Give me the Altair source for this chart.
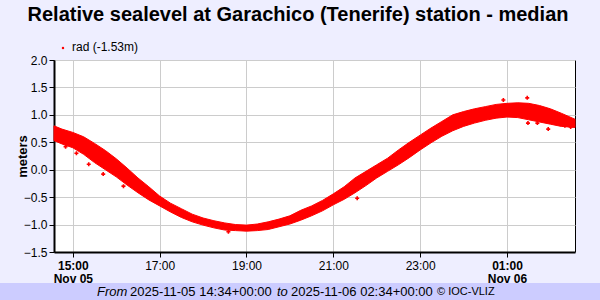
import altair as alt
import pandas as pd

# ---- data ----
band_times = ["14:34", "14:45", "15:00", "15:15", "15:30", "15:45", "16:00", "16:15",
              "16:30", "16:45", "17:00", "17:15", "17:30", "17:45", "18:00", "18:15",
              "18:30", "18:45", "19:00", "19:15", "19:30", "19:45", "20:00", "20:15",
              "20:30", "20:45", "21:00", "21:15", "21:30", "21:45", "22:00", "22:15",
              "22:30", "22:45", "23:00", "23:15", "23:30", "23:45", "00:00", "00:15",
              "00:30", "00:45", "01:00", "01:15", "01:30", "01:45", "02:00", "02:15",
              "02:34"]
band_lower = [0.53, 0.47, 0.40, 0.28, 0.13, 0.00, -0.13, -0.28,
              -0.42, -0.55, -0.66, -0.77, -0.87, -0.95, -1.01, -1.06,
              -1.10, -1.11, -1.12, -1.11, -1.09, -1.04, -0.99, -0.92,
              -0.84, -0.75, -0.64, -0.54, -0.42, -0.29, -0.15, -0.03,
              0.09, 0.22, 0.36, 0.49, 0.61, 0.71, 0.79, 0.85,
              0.90, 0.94, 0.96, 0.95, 0.91, 0.87, 0.83, 0.79,
              0.77]
band_upper = [0.80, 0.74, 0.68, 0.60, 0.48, 0.35, 0.20, 0.03,
              -0.15, -0.31, -0.48, -0.61, -0.71, -0.81, -0.88, -0.93,
              -0.97, -1.00, -1.01, -0.99, -0.95, -0.90, -0.84, -0.74,
              -0.66, -0.56, -0.44, -0.31, -0.15, -0.03, 0.09, 0.21,
              0.36, 0.50, 0.63, 0.76, 0.88, 1.00, 1.06, 1.11,
              1.15, 1.19, 1.21, 1.22, 1.21, 1.17, 1.11, 1.03,
              0.92]

outlier_times = ["14:50", "15:05", "15:22", "15:42", "16:10", "18:35", "21:33",
                 "00:55", "01:28", "01:29", "01:42", "01:57", "02:20", "02:28"]
outlier_values = [0.42, 0.30, 0.10, -0.08, -0.30, -1.13, -0.52,
                  1.27, 1.31, 0.85, 0.85, 0.74, 0.80, 0.78]

tick_times = ["15:00", "17:00", "19:00", "21:00", "23:00", "01:00"]
date_labels = {"15:00": "Nov 05", "01:00": "Nov 06"}
y_ticks = [-1.5, -1.0, -0.5, 0.0, 0.5, 1.0, 1.5, 2.0]

title_text = "Relative sealevel at Garachico (Tenerife) station - median"
legend_text = "rad (-1.53m)"
y_title = "meters"
start_text = "2025-11-05 14:34+00:00"
end_text = "2025-11-06 02:34+00:00"
credit_text = "\u00a9 IOC-VLIZ"


def to_iso(hm):
    h = int(hm.split(":")[0])
    day = "2025-11-05" if h >= 12 else "2025-11-06"
    return f"{day}T{hm}:00Z"


def to_ms(hm):
    return int(pd.Timestamp(to_iso(hm)).value // 10**6)


band_df = pd.DataFrame({"t": [to_iso(t) for t in band_times],
                        "lo": band_lower, "hi": band_upper})
out_df = pd.DataFrame({"t": [to_iso(t) for t in outlier_times], "lo": outlier_values})

domain_x = [to_ms("14:34"), to_ms("02:34")]
tick_vals = [to_ms(t) for t in tick_times]

label_expr = ("utchours(datum.value)==15 ? [utcFormat(datum.value,'%H:%M'), '" + date_labels["15:00"] + "'] : "
              "utchours(datum.value)==1 ? [utcFormat(datum.value,'%H:%M'), '" + date_labels["01:00"] + "'] : "
              "utcFormat(datum.value,'%H:%M')")

FONT = "Liberation Sans"

xscale = alt.Scale(type="utc", domain=domain_x)
xaxis = alt.Axis(values=tick_vals, labelExpr=label_expr, title=None,
                 labelFontWeight={"condition": {"test": "utchours(datum.value)==15 || utchours(datum.value)==1",
                                                "value": "bold"}, "value": "normal"},
                 labelFont=FONT, labelFontSize=12, labelColor="black",
                 labelLineHeight=13, labelPadding=3, labelOverlap=False,
                 tickSize=5, tickColor="black", domainColor="black", domainWidth=2,
                 grid=True, gridColor="#cccccc", gridWidth=1, labelFlush=False)

yscale = alt.Scale(domain=[-1.5, 2.0], nice=False, zero=False)
yaxis = alt.Axis(values=y_ticks, format=".1f",
                 title=y_title, titleFont=FONT, titleFontSize=13, titleFontWeight="bold",
                 titleColor="black", titleX=-32, titleY=96, titleAlign="center",
                 titleBaseline="middle", titleAngle=270,
                 labelFont=FONT, labelFontSize=12, labelColor="black", labelPadding=2,
                 labelOverlap=False, labelFlush=False, labelBound=False,
                 tickSize=5, tickColor="black", domainColor="black", domainWidth=2,
                 grid=True, gridColor="#cccccc", gridWidth=1)

band = alt.Chart(band_df).mark_area(color="#ff0000", stroke="#ff0000", strokeWidth=1,
                                    interpolate="linear").encode(
    x=alt.X("t:T", scale=xscale, axis=xaxis),
    y=alt.Y("lo:Q", scale=yscale, axis=yaxis),
    y2="hi:Q",
)

outl = alt.Chart(out_df).mark_point(shape="cross", filled=True, color="#ff0000",
                                    size=16, opacity=1).encode(
    x=alt.X("t:T", scale=xscale, axis=xaxis),
    y=alt.Y("lo:Q", scale=yscale, axis=yaxis),
)

title = alt.Chart(pd.DataFrame({"s": [title_text]})).mark_text(
    font=FONT, fontSize=20, fontWeight="bold", color="black", align="center", baseline="middle"
).encode(x=alt.value(244), y=alt.value(-45), text="s:N")

leg_pt = alt.Chart(pd.DataFrame({"s": [legend_text]})).mark_point(
    shape="circle", filled=True, color="#ff0000", size=6, opacity=1
).encode(x=alt.value(9), y=alt.value(-12))

leg_txt = alt.Chart(pd.DataFrame({"s": [legend_text]})).mark_text(
    font=FONT, fontSize=12, color="black", align="left", baseline="middle"
).encode(x=alt.value(18), y=alt.value(-13), text="s:N")

footer_band = alt.Chart(pd.DataFrame({"s": [1]})).mark_rect(color="#ccccff").encode(
    x=alt.value(-54), x2=alt.value(546), y=alt.value(223), y2=alt.value(240))

pieces = [("From", 43, 13, "italic"), (start_text, 76, 13, "normal"),
          ("to", 223, 13, "italic"), (end_text, 237, 13, "normal"),
          (credit_text, 383, 11, "normal")]
foot_layers = []
for txt, xpos, fs, style in pieces:
    foot_layers.append(
        alt.Chart(pd.DataFrame({"s": [txt]})).mark_text(
            font=FONT, fontSize=fs, fontStyle=style, color="black", align="left", baseline="middle"
        ).encode(x=alt.value(xpos), y=alt.value(232), text="s:N"))

chart = alt.layer(band, outl, title, leg_pt, leg_txt, footer_band, *foot_layers).properties(
    width=521, height=192,
    padding={"left": 54, "top": 60, "right": 25, "bottom": 48},
    autosize=alt.AutoSizeParams(type="none"),
    background="#eeeeff",
).configure_view(fill="white", stroke="black", strokeWidth=1)

chart.save("out.html", embed_options={"renderer": "svg", "actions": False})
